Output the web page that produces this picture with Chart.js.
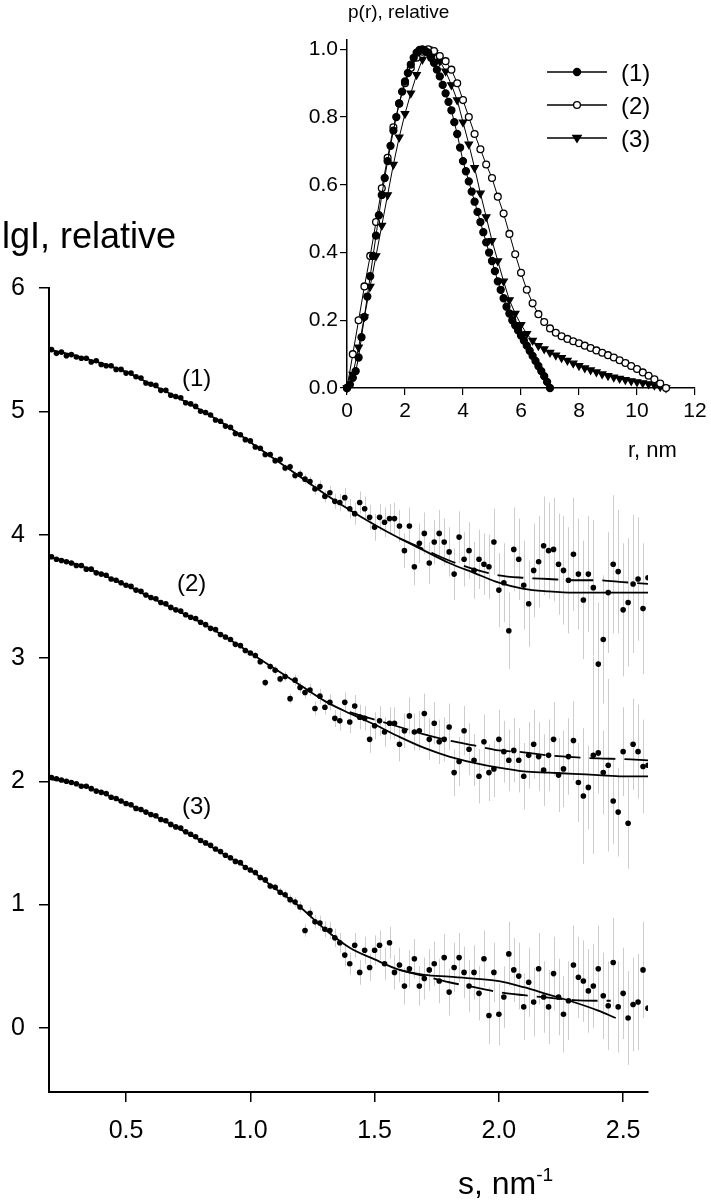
<!DOCTYPE html>
<html>
<head>
<meta charset="utf-8">
<script src="https://cdn.jsdelivr.net/npm/chart.js@4.4.1/dist/chart.umd.min.js"></script>
<style>
  body { margin: 0; background: #fff; }
  #wrap { position: relative; width: 711px; height: 1203px; font-family: 'Liberation Sans', Arial, sans-serif; color: #000; }
  canvas { position: absolute; }
  #main { left: 0; top: 0; }
  #inset { left: 290px; top: 0; }
  .lbl { position: absolute; white-space: nowrap; line-height: 1; }
  .lbl sup { font-size: 0.6em; vertical-align: 0.7em; }
</style>
</head>
<body>
<div id="wrap">
  <canvas id="main" width="711" height="1203"></canvas>
  <canvas id="inset" width="421" height="470"></canvas>
  <div class="lbl" style="left:2px; top:218px; font-size:36px;">lgI, relative</div>
  <div class="lbl" style="left:458px; top:1165px; font-size:32px;">s, nm<sup>-1</sup></div>
  <div class="lbl" style="left:182px; top:366px; font-size:24px;">(1)</div>
  <div class="lbl" style="left:177px; top:571px; font-size:24px;">(2)</div>
  <div class="lbl" style="left:182px; top:794px; font-size:24px;">(3)</div>
  <div class="lbl" style="left:348px; top:2px; font-size:19px;">p(r), relative</div>
  <div class="lbl" style="left:628px; top:439px; font-size:22px;">r, nm</div>
</div>
<script>
// ---- scattering curves, lgI vs s ----
const sValues = [
  0.20,0.22,0.24,0.26,0.28,0.30,0.32,0.34,0.36,0.38,0.40,0.42,0.44,0.46,0.48,0.50,
  0.52,0.54,0.56,0.58,0.60,0.62,0.64,0.66,0.68,0.70,0.72,0.74,0.76,0.78,0.80,
  0.82,0.84,0.86,0.88,0.90,0.92,0.94,0.96,0.98,1.00,
  1.02,1.04,1.06,1.08,1.10,1.12,1.14,1.16,1.18,1.20,
  1.22,1.24,1.26,1.28,1.30,1.32,1.34,
  1.36,1.38,1.40,1.42,1.44,1.46,1.48,1.50,1.52,1.54,1.56,1.58,1.60,
  1.62,1.64,1.66,1.68,1.70,1.72,1.74,1.76,1.78,1.80,1.82,1.84,1.86,1.88,1.90,1.92,1.94,1.96,1.98,
  2.00,2.02,2.04,2.06,2.08,2.10,2.12,2.14,2.16,2.18,2.20,2.22,2.24,2.26,2.28,2.30,
  2.32,2.34,2.36,2.38,2.40,2.42,2.44,2.46,2.48,2.50,2.52,2.54,2.56,2.58,2.60
];

const curve1 = [
  5.50,5.47,5.48,5.45,5.46,5.44,5.43,5.43,5.40,5.41,5.38,5.37,5.37,5.34,5.34,5.31,
  5.31,5.28,5.27,5.23,5.22,5.21,5.17,5.17,5.13,5.12,5.11,5.07,5.06,5.04,5.00,
  4.99,4.97,4.93,4.92,4.88,4.87,4.82,4.81,4.77,4.76,
  4.71,4.70,4.65,4.65,4.60,4.61,4.54,4.55,4.48,4.49,
  4.45,4.43,4.37,4.39,4.31,4.34,4.27,
  4.26,4.30,4.21,4.17,4.26,4.21,4.14,4.06,4.14,4.10,4.13,4.13,4.07,
  3.87,4.07,3.74,3.93,4.01,3.77,3.94,4.01,3.94,3.86,3.68,3.98,3.80,3.87,3.71,3.80,3.76,3.74,3.94,
  3.55,3.61,3.22,3.88,3.80,3.59,3.44,3.71,3.78,3.91,3.87,3.88,3.76,3.71,3.63,3.84,
  3.68,3.47,3.68,3.57,2.95,3.15,3.53,3.76,3.70,3.39,3.45,3.60,3.64,3.40,3.65
];
const curve2 = [
  3.82,3.80,3.79,3.78,3.77,3.75,3.75,3.72,3.72,3.69,3.68,3.67,3.64,3.63,3.61,3.59,
  3.58,3.55,3.54,3.51,3.49,3.48,3.45,3.44,3.41,3.39,3.38,3.35,3.33,3.32,3.29,
  3.27,3.24,3.23,3.19,3.17,3.15,3.11,3.10,3.06,3.04,
  3.02,2.97,2.80,2.93,2.90,2.83,2.85,2.67,2.82,2.76,
  2.72,2.74,2.59,2.69,2.60,2.64,2.51,
  2.49,2.64,2.48,2.61,2.52,2.51,2.34,2.45,2.49,2.40,2.47,2.47,2.30,
  2.41,2.53,2.40,2.41,2.55,2.34,2.47,2.32,2.34,2.44,2.07,2.16,2.41,2.26,2.17,2.04,2.32,2.07,2.10,
  2.34,2.24,2.17,2.25,2.17,2.04,2.21,2.30,2.20,2.09,2.21,2.34,2.05,2.10,2.20,2.33,
  1.99,1.88,1.95,2.21,2.23,2.07,2.13,1.84,1.75,2.24,1.66,2.30,2.24,2.12,2.13
];
const curve3 = [
  2.03,2.02,2.01,2.00,1.99,1.98,1.96,1.96,1.94,1.92,1.91,1.90,1.87,1.86,1.84,1.82,
  1.81,1.78,1.77,1.75,1.73,1.72,1.69,1.68,1.65,1.63,1.62,1.59,1.57,1.55,1.52,
  1.50,1.48,1.45,1.43,1.40,1.38,1.35,1.34,1.30,1.28,
  1.26,1.22,1.20,1.15,1.14,1.10,1.08,1.04,1.02,0.98,
  0.79,0.93,0.86,0.85,0.80,0.79,0.73,
  0.69,0.59,0.52,0.67,0.45,0.63,0.49,0.63,0.67,0.52,0.69,0.45,0.51,
  0.34,0.48,0.56,0.34,0.40,0.47,0.52,0.38,0.57,0.29,0.49,0.57,0.45,0.34,0.45,0.28,0.56,0.10,0.45,
  0.11,0.25,0.60,0.47,0.42,0.17,0.37,0.21,0.48,0.25,0.17,0.44,0.25,0.11,0.22,0.51,
  0.41,0.38,0.30,0.34,0.48,0.26,0.18,0.53,0.17,0.28,0.08,0.19,0.21,0.47,0.16
];

// error bar half-lengths (lgI units)
const err1 = [
  0.005,0.005,0.005,0.005,0.005,0.005,0.005,0.005,0.005,0.005,0.005,0.005,0.005,0.005,0.005,0.005,
  0.008,0.008,0.008,0.008,0.008,0.008,0.008,0.008,0.008,0.008,0.008,0.008,0.008,0.008,0.008,
  0.012,0.012,0.012,0.012,0.012,0.012,0.012,0.012,0.012,0.012,
  0.02,0.02,0.022,0.025,0.025,0.028,0.03,0.03,0.032,0.035,
  0.04,0.04,0.045,0.05,0.05,0.055,0.06,
  0.07,0.08,0.08,0.09,0.09,0.10,0.10,0.11,0.11,0.12,0.12,0.13,0.13,
  0.14,0.15,0.15,0.16,0.17,0.17,0.18,0.19,0.19,0.20,0.21,0.21,0.22,0.23,0.23,0.24,0.25,0.26,0.27,
  0.30,0.32,0.31,0.34,0.33,0.36,0.35,0.38,0.37,0.40,0.39,0.42,0.41,0.44,0.43,0.46,
  0.45,0.48,0.47,0.55,0.50,0.52,0.49,0.56,0.50,0.54,0.52,0.56,0.50,0.53,0.52
];
const err2 = [
  0.006,0.006,0.006,0.006,0.006,0.006,0.006,0.006,0.006,0.006,0.006,0.006,0.006,0.006,0.006,0.006,
  0.01,0.01,0.01,0.01,0.01,0.01,0.01,0.01,0.01,0.01,0.01,0.01,0.01,0.01,0.01,
  0.015,0.015,0.015,0.015,0.015,0.015,0.015,0.015,0.015,0.015,
  0.025,0.025,0.03,0.03,0.035,0.035,0.04,0.04,0.045,0.045,
  0.05,0.05,0.055,0.06,0.06,0.065,0.07,
  0.08,0.08,0.09,0.09,0.10,0.10,0.11,0.11,0.12,0.12,0.13,0.13,0.14,
  0.14,0.15,0.15,0.16,0.16,0.17,0.17,0.18,0.18,0.19,0.19,0.20,0.20,0.21,0.21,0.22,0.22,0.23,0.23,
  0.24,0.25,0.25,0.26,0.26,0.27,0.27,0.28,0.28,0.29,0.29,0.30,0.30,0.31,0.31,0.32,
  0.32,0.55,0.34,0.80,0.33,0.34,0.70,0.35,0.36,0.36,0.37,0.37,0.38,0.38,0.39
];
const err3 = [
  0.006,0.006,0.006,0.006,0.006,0.006,0.006,0.006,0.006,0.006,0.006,0.006,0.006,0.006,0.006,0.006,
  0.01,0.01,0.01,0.01,0.01,0.01,0.01,0.01,0.01,0.01,0.01,0.01,0.01,0.01,0.01,
  0.015,0.015,0.015,0.015,0.015,0.015,0.015,0.015,0.015,0.015,
  0.02,0.025,0.025,0.03,0.03,0.035,0.035,0.04,0.04,0.045,
  0.05,0.05,0.055,0.06,0.065,0.07,0.075,
  0.08,0.09,0.09,0.10,0.10,0.11,0.11,0.12,0.12,0.13,0.13,0.14,0.14,
  0.15,0.15,0.16,0.16,0.17,0.17,0.18,0.18,0.19,0.19,0.20,0.20,0.21,0.21,0.22,0.22,0.23,0.23,0.24,
  0.25,0.25,0.26,0.26,0.27,0.27,0.28,0.28,0.29,0.29,0.30,0.30,0.31,0.31,0.32,0.32,
  0.33,0.33,0.34,0.34,0.35,0.35,0.36,0.36,0.37,0.37,0.38,0.38,0.39,0.39,0.40
];

// model fits (solid) and alternative fits (dashed)
const fitS = [0.19,0.3,0.4,0.5,0.6,0.7,0.8,0.9,1.0,1.1,1.2,1.3,1.4,1.5,1.6,1.7,1.8,1.9,2.0,2.1,2.2,2.3,2.4,2.5,2.6];
const fit1 = [5.50,5.45,5.39,5.32,5.22,5.12,5.01,4.89,4.75,4.61,4.47,4.33,4.20,4.08,3.97,3.87,3.77,3.69,3.61,3.56,3.54,3.53,3.53,3.53,3.53];
const fit2 = [3.82,3.76,3.68,3.59,3.49,3.39,3.29,3.17,3.04,2.91,2.78,2.65,2.55,2.46,2.36,2.27,2.20,2.15,2.11,2.08,2.07,2.06,2.05,2.04,2.04];
const fit3S = [0.19,0.3,0.4,0.5,0.6,0.7,0.8,0.9,1.0,1.1,1.2,1.3,1.4,1.5,1.6,1.7,1.8,1.9,2.0,2.1,2.2,2.3,2.4,2.47];
const fit3 = [2.02,1.98,1.91,1.82,1.73,1.63,1.52,1.40,1.28,1.13,0.98,0.80,0.65,0.555,0.47,0.43,0.415,0.40,0.38,0.33,0.27,0.21,0.14,0.08];

const dash1S = [1.6,1.7,1.8,1.9,2.0,2.1,2.2,2.3,2.4,2.5,2.6];
const dash1 = [3.97,3.88,3.79,3.72,3.67,3.65,3.64,3.63,3.63,3.615,3.60];
const dash2S = [1.4,1.5,1.6,1.7,1.8,1.9,2.0,2.1,2.2,2.3,2.4,2.5,2.6];
const dash2 = [2.56,2.50,2.44,2.38,2.33,2.29,2.25,2.235,2.21,2.195,2.185,2.18,2.17];
const dash3S = [1.6,1.7,1.8,1.9,2.0,2.1,2.2,2.3,2.4,2.45];
const dash3 = [0.47,0.42,0.37,0.33,0.29,0.265,0.245,0.225,0.22,0.22];

const sTicks = [0.5,1.0,1.5,2.0,2.5];
const lgTicks = [0,1,2,3,4,5,6];

// ---- inset: distance distribution p(r) ----
const r1 = [
  0.0,0.1,0.2,0.3,0.4,0.5,0.6,0.7,0.8,0.9,1.0,1.1,1.2,1.3,1.4,1.5,1.6,1.7,1.8,1.9,
  2.0,2.1,2.2,2.3,2.4,2.5,2.6,2.7,2.8,2.9,3.0,3.1,3.2,3.3,3.4,3.5,3.6,3.7,3.8,3.9,
  4.0,4.1,4.2,4.3,4.4,4.5,4.6,4.7,4.8,4.9,5.0,5.1,5.2,5.3,5.4,5.5,5.6,5.7,5.8,5.9,
  6.0,6.1,6.2,6.3,6.4,6.5,6.6,6.7,6.8,6.9,7.0
];
const p1 = [
  0,0.01,0.03,0.05,0.09,0.15,0.21,0.27,0.33,0.39,0.45,0.51,0.57,0.62,0.67,0.715,0.76,0.80,0.84,0.875,
  0.905,0.93,0.955,0.975,0.99,0.998,1.0,0.995,0.99,0.975,0.96,0.94,0.92,0.895,0.87,0.845,0.82,0.785,0.75,0.71,
  0.67,0.64,0.61,0.58,0.55,0.52,0.49,0.46,0.43,0.40,0.375,0.345,0.315,0.29,0.265,0.24,0.22,0.20,0.185,0.17,
  0.155,0.14,0.125,0.11,0.095,0.08,0.065,0.05,0.035,0.018,0
];
const r23 = [
  0.0,0.2,0.4,0.6,0.8,1.0,1.2,1.4,1.6,1.8,2.0,2.2,2.4,2.6,2.8,3.0,3.2,3.4,3.6,3.8,
  4.0,4.2,4.4,4.6,4.8,5.0,5.2,5.4,5.6,5.8,6.0,6.2,6.4,6.6,6.8,7.0,7.2,7.4,7.6,7.8,
  8.0,8.2,8.4,8.6,8.8,9.0,9.2,9.4,9.6,9.8,10.0,10.2,10.4,10.6,10.8,11.0
];
const p2 = [
  0,0.10,0.20,0.30,0.39,0.49,0.59,0.68,0.77,0.84,0.90,0.945,0.975,0.993,1.0,0.995,0.98,0.965,0.94,0.90,
  0.85,0.80,0.75,0.705,0.66,0.62,0.565,0.515,0.455,0.395,0.34,0.29,0.25,0.218,0.195,0.176,0.163,0.153,0.145,0.138,
  0.132,0.125,0.118,0.111,0.104,0.097,0.09,0.082,0.074,0.065,0.056,0.046,0.036,0.026,0.013,0
];
const p3 = [
  0,0.04,0.12,0.21,0.30,0.39,0.48,0.57,0.66,0.74,0.81,0.87,0.925,0.97,1.0,0.99,0.965,0.935,0.895,0.85,
  0.785,0.72,0.65,0.575,0.505,0.435,0.375,0.315,0.26,0.22,0.187,0.16,0.14,0.125,0.115,0.105,0.097,0.089,0.081,0.073,
  0.066,0.059,0.053,0.047,0.041,0.036,0.032,0.028,0.024,0.021,0.018,0.015,0.012,0.008,0.004,0
];
const rTicks = [0,2,4,6,8,10,12];
const pTicks = [0,0.2,0.4,0.6,0.8,1.0];
const pLabels = ['(1)','(2)','(3)'];

Chart.defaults.font.family = "'Liberation Sans', Arial, sans-serif";
Chart.defaults.color = '#000';

const toPts = (xs, ys) => xs.map((x, i) => ({ x: x, y: ys[i] }));

// grey vertical error bars, drawn under the points
const errorBars = {
  id: 'errorBars',
  beforeDatasetsDraw(chart) {
    const { ctx, chartArea, scales } = chart;
    ctx.save();
    ctx.beginPath();
    ctx.rect(chartArea.left, chartArea.top, chartArea.width, chartArea.height);
    ctx.clip();
    ctx.strokeStyle = '#cdcdcd';
    ctx.lineWidth = 1;
    chart.data.datasets.forEach(ds => {
      if (!ds.errors) return;
      ds.data.forEach((pt, i) => {
        const e = ds.errors[i];
        const px = Math.round(scales.x.getPixelForValue(pt.x)) + 0.5;
        ctx.beginPath();
        ctx.moveTo(px, scales.y.getPixelForValue(pt.y - e));
        ctx.lineTo(px, scales.y.getPixelForValue(pt.y + e));
        ctx.stroke();
      });
    });
    ctx.restore();
  }
};

function fitSet(xs, ys, dashed) {
  return {
    type: 'line',
    data: toPts(xs, ys),
    borderColor: '#000',
    borderWidth: 1.8,
    borderDash: dashed ? [26, 9] : [],
    pointRadius: 0,
    cubicInterpolationMode: 'monotone',
    fill: false
  };
}
function dotSet(ys, errs) {
  return {
    type: 'scatter',
    data: toPts(sValues, ys),
    errors: errs,
    pointRadius: 2.8,
    pointBackgroundColor: '#000',
    pointBorderWidth: 0,
    showLine: false
  };
}

new Chart(document.getElementById('main'), {
  type: 'scatter',
  data: {
    datasets: [
      fitSet(fitS, fit1, false),
      fitSet(fitS, fit2, false),
      fitSet(fit3S, fit3, false),
      fitSet(dash1S, dash1, true),
      fitSet(dash2S, dash2, true),
      fitSet(dash3S, dash3, true),
      dotSet(curve1, err1),
      dotSet(curve2, err2),
      dotSet(curve3, err3)
    ]
  },
  options: {
    responsive: false,
    animation: false,
    devicePixelRatio: 1,
    layout: { padding: { top: 288, right: 63, left: 0, bottom: 0 } },
    plugins: { legend: { display: false }, tooltip: { enabled: false } },
    scales: {
      x: {
        type: 'linear', min: 0.19, max: 2.6,
        afterBuildTicks: s => { s.ticks = sTicks.map(v => ({ value: v })); },
        afterFit: s => { s.height = 111; },
        ticks: { font: { size: 25 }, color: '#000', padding: 14, maxRotation: 0, autoSkip: false,
                 callback: v => v.toFixed(1) },
        grid: { drawOnChartArea: false, drawTicks: true, tickLength: 10, color: '#000', lineWidth: 1.5 },
        border: { display: true, color: '#000', width: 2 }
      },
      y: {
        type: 'linear', min: -0.52, max: 6,
        afterBuildTicks: s => { s.ticks = lgTicks.map(v => ({ value: v })); },
        afterFit: s => { s.width = 49; },
        ticks: { font: { size: 25 }, color: '#000', padding: 14, autoSkip: false },
        grid: { drawOnChartArea: false, drawTicks: true, tickLength: 10, color: '#000', lineWidth: 1.5 },
        border: { display: true, color: '#000', width: 2 }
      }
    }
  },
  plugins: [errorBars]
});

// legend with a line through the marker, as in the inset
function drawMarker(ctx, ds, x, y) {
  ctx.fillStyle = ds.pointBackgroundColor;
  ctx.strokeStyle = '#000';
  ctx.lineWidth = ds.pointBorderWidth;
  ctx.beginPath();
  if (ds.pointStyle === 'triangle') {
    const r = ds.pointRadius;
    ctx.moveTo(x - r, y - r * 0.6);
    ctx.lineTo(x + r, y - r * 0.6);
    ctx.lineTo(x, y + r);
    ctx.closePath();
  } else {
    ctx.arc(x, y, ds.pointRadius, 0, Math.PI * 2);
  }
  ctx.fill();
  ctx.stroke();
}
const lineLegend = {
  id: 'lineLegend',
  afterDraw(chart) {
    const ctx = chart.ctx;
    ctx.save();
    chart.data.datasets.forEach((ds, i) => {
      const y = 72 + i * 33;
      ctx.strokeStyle = '#000';
      ctx.lineWidth = 1.3;
      ctx.beginPath();
      ctx.moveTo(257, y);
      ctx.lineTo(317, y);
      ctx.stroke();
      drawMarker(ctx, ds, 287, y);
      ctx.fillStyle = '#000';
      ctx.font = "24px 'Liberation Sans', Arial, sans-serif";
      ctx.textBaseline = 'middle';
      ctx.textAlign = 'left';
      ctx.fillText(ds.label, 331, y + 2);
    });
    ctx.restore();
  }
};

function prSet(label, xs, ys, style, fillColor, radius) {
  return {
    label: label,
    data: toPts(xs, ys),
    borderColor: '#000',
    borderWidth: 1,
    pointStyle: style,
    pointRotation: style === 'triangle' ? 180 : 0,
    pointRadius: radius,
    pointBackgroundColor: fillColor,
    pointBorderColor: '#000',
    pointBorderWidth: 1.3,
    clip: false,
    fill: false
  };
}

new Chart(document.getElementById('inset'), {
  type: 'line',
  data: {
    datasets: [
      prSet(pLabels[0], r1, p1, 'circle', '#000', 3.5),
      prSet(pLabels[1], r23, p2, 'circle', '#fff', 3.4),
      prSet(pLabels[2], r23, p3, 'triangle', '#000', 4.2)
    ]
  },
  options: {
    responsive: false,
    animation: false,
    devicePixelRatio: 1,
    layout: { padding: { top: 40, right: 16, left: 0, bottom: 0 } },
    plugins: { legend: { display: false }, tooltip: { enabled: false } },
    scales: {
      x: {
        type: 'linear', min: 0, max: 12,
        afterBuildTicks: s => { s.ticks = rTicks.map(v => ({ value: v })); },
        afterFit: s => { s.height = 82; },
        ticks: { font: { size: 21 }, color: '#000', padding: 4, maxRotation: 0, autoSkip: false },
        grid: { drawOnChartArea: false, drawTicks: true, tickLength: 7, color: '#000', lineWidth: 1.2 },
        border: { display: true, color: '#000', width: 1.5 }
      },
      y: {
        type: 'linear', min: 0, max: 1.0275,
        afterBuildTicks: s => { s.ticks = pTicks.map(v => ({ value: v })); },
        afterFit: s => { s.width = 57; },
        ticks: { font: { size: 21 }, color: '#000', padding: 2, autoSkip: false,
                 callback: v => v.toFixed(1) },
        grid: { drawOnChartArea: false, drawTicks: true, tickLength: 7, color: '#000', lineWidth: 1.2 },
        border: { display: true, color: '#000', width: 1.5 }
      }
    }
  },
  plugins: [lineLegend]
});
</script>
</body>
</html>
